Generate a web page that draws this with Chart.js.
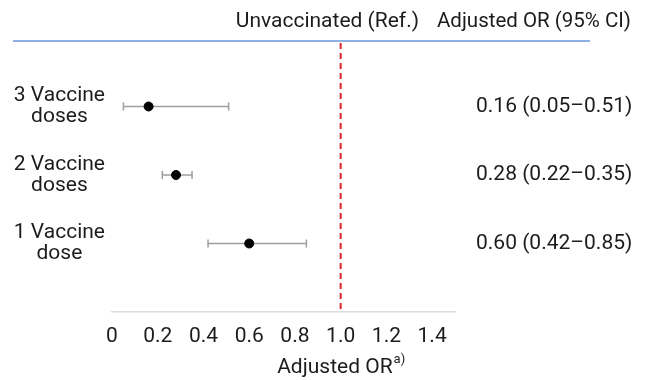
<!DOCTYPE html>
<html>
<head>
<meta charset="utf-8">
<script src="https://cdn.jsdelivr.net/npm/chart.js@4/dist/chart.umd.min.js"></script>
<style>
  html, body { margin: 0; padding: 0; background: #fff; }
  #wrap { width: 648px; height: 380px; position: relative; }
</style>
</head>
<body>
<div id="wrap"><canvas id="chart-forest" width="648" height="380"></canvas></div>
<script>
/* ── Data ─────────────────────────────────────────────── */
const rowLabels = [['3 Vaccine', 'doses'], ['2 Vaccine', 'doses'], ['1 Vaccine', 'dose']];
const rowPos    = [3, 2, 1];
const orValues  = [0.16, 0.28, 0.60];
const ciLow     = [0.05, 0.22, 0.42];
const ciHigh    = [0.51, 0.35, 0.85];
const refValue  = 1.0;

const ciText = orValues.map((v, i) =>
  `${v.toFixed(2)} (${ciLow[i].toFixed(2)}–${ciHigh[i].toFixed(2)})`);

const FONT  = 'Roboto, "Noto Sans", sans-serif';
const INK   = '#1c1c1c';

/* ── Error bars, reference line, header ───────────────── */
const forestDecor = {
  id: 'forestDecor',
  beforeDatasetsDraw(chart) {
    const { ctx, chartArea, scales: { x, y } } = chart;
    ctx.save();

    // top rule
    ctx.strokeStyle = '#8fb0e3';
    ctx.lineWidth = 2;
    ctx.beginPath();
    ctx.moveTo(13, chartArea.top + 3);
    ctx.lineTo(590, chartArea.top + 3);
    ctx.stroke();

    // reference line at OR = 1
    const rx = x.getPixelForValue(refValue);
    ctx.strokeStyle = '#d9252b';
    ctx.lineWidth = 2;
    ctx.setLineDash([6, 4]);
    ctx.beginPath();
    ctx.moveTo(rx, chartArea.top + 5);
    ctx.lineTo(rx, chartArea.bottom);
    ctx.stroke();
    ctx.setLineDash([]);

    // CI whiskers
    ctx.strokeStyle = '#9e9e9e';
    ctx.lineWidth = 1.5;
    rowPos.forEach((r, i) => {
      const py = y.getPixelForValue(r);
      const x0 = x.getPixelForValue(ciLow[i]);
      const x1 = x.getPixelForValue(ciHigh[i]);
      ctx.beginPath();
      ctx.moveTo(x0, py); ctx.lineTo(x1, py);
      ctx.moveTo(x0, py - 4); ctx.lineTo(x0, py + 4);
      ctx.moveTo(x1, py - 4); ctx.lineTo(x1, py + 4);
      ctx.stroke();
    });

    // header texts
    ctx.fillStyle = INK;
    ctx.font = `21px ${FONT}`;
    ctx.textBaseline = 'alphabetic';
    ctx.textAlign = 'right';
    ctx.fillText('Unvaccinated (Ref.)', 419, 27);
    ctx.textAlign = 'left';
    ctx.font = `20.5px ${FONT}`;
    ctx.fillText('Adjusted OR (95% CI)', 437, 27);

    // x-axis title with superscript
    const cx = x.getPixelForValue(refValue);
    ctx.font = `21px ${FONT}`;
    const main = 'Adjusted OR';
    const wMain = ctx.measureText(main).width;
    ctx.font = `13px ${FONT}`;
    const sup = 'a)';
    const wSup = ctx.measureText(sup).width;
    const startX = cx - (wMain + wSup) / 2;
    ctx.font = `21px ${FONT}`;
    ctx.fillText(main, startX, 373);
    ctx.font = `13px ${FONT}`;
    ctx.fillText(sup, startX + wMain + 1, 363);

    ctx.restore();
  },
};

/* ── Chart ────────────────────────────────────────────── */
new Chart(document.getElementById('chart-forest').getContext('2d'), {
  type: 'scatter',
  data: {
    datasets: [{
      label: 'Adjusted OR',
      data: rowPos.map((r, i) => ({ x: orValues[i], y: r })),
      backgroundColor: '#000',
      borderColor: '#000',
      pointRadius: 4.5,
      pointHoverRadius: 4.5,
    }],
  },
  options: {
    responsive: false,
    animation: false,
    layout: { padding: { top: 38, left: 0, right: 0, bottom: 0 } },
    plugins: { legend: { display: false }, tooltip: { enabled: false } },
    scales: {
      x: {
        type: 'linear',
        min: 0,
        max: 1.5,
        border: { display: true, color: '#dcdcdc', width: 1.5 },
        grid: { display: false, drawTicks: false },
        ticks: {
          stepSize: 0.2,
          includeBounds: false,
          padding: 12,
          color: INK,
          font: { family: FONT, size: 21 },
          callback: v => (v === 0 ? '0' : v.toFixed(1)),
        },
        afterFit: s => { s.height = 68; },
      },
      y: {
        type: 'linear',
        position: 'left',
        min: 0,
        max: 4,
        border: { display: false },
        grid: { display: false, drawTicks: false },
        afterBuildTicks: s => { s.ticks = rowPos.map(v => ({ value: v })); },
        ticks: {
          crossAlign: 'center',
          padding: 7,
          color: INK,
          font: { family: FONT, size: 21, lineHeight: 1.02 },
          callback: v => rowLabels[rowPos.indexOf(v)] ?? '',
        },
        afterFit: s => { s.width = 112; },
      },
      y2: {
        type: 'linear',
        position: 'right',
        min: 0,
        max: 4,
        border: { display: false },
        grid: { display: false, drawTicks: false },
        afterBuildTicks: s => { s.ticks = rowPos.map(v => ({ value: v })); },
        ticks: {
          crossAlign: 'near',
          padding: 21,
          color: INK,
          font: { family: FONT, size: 21 },
          callback: v => ciText[rowPos.indexOf(v)] ?? '',
        },
        afterFit: s => { s.width = 193; },
      },
    },
  },
  plugins: [forestDecor],
});
</script>
</body>
</html>
